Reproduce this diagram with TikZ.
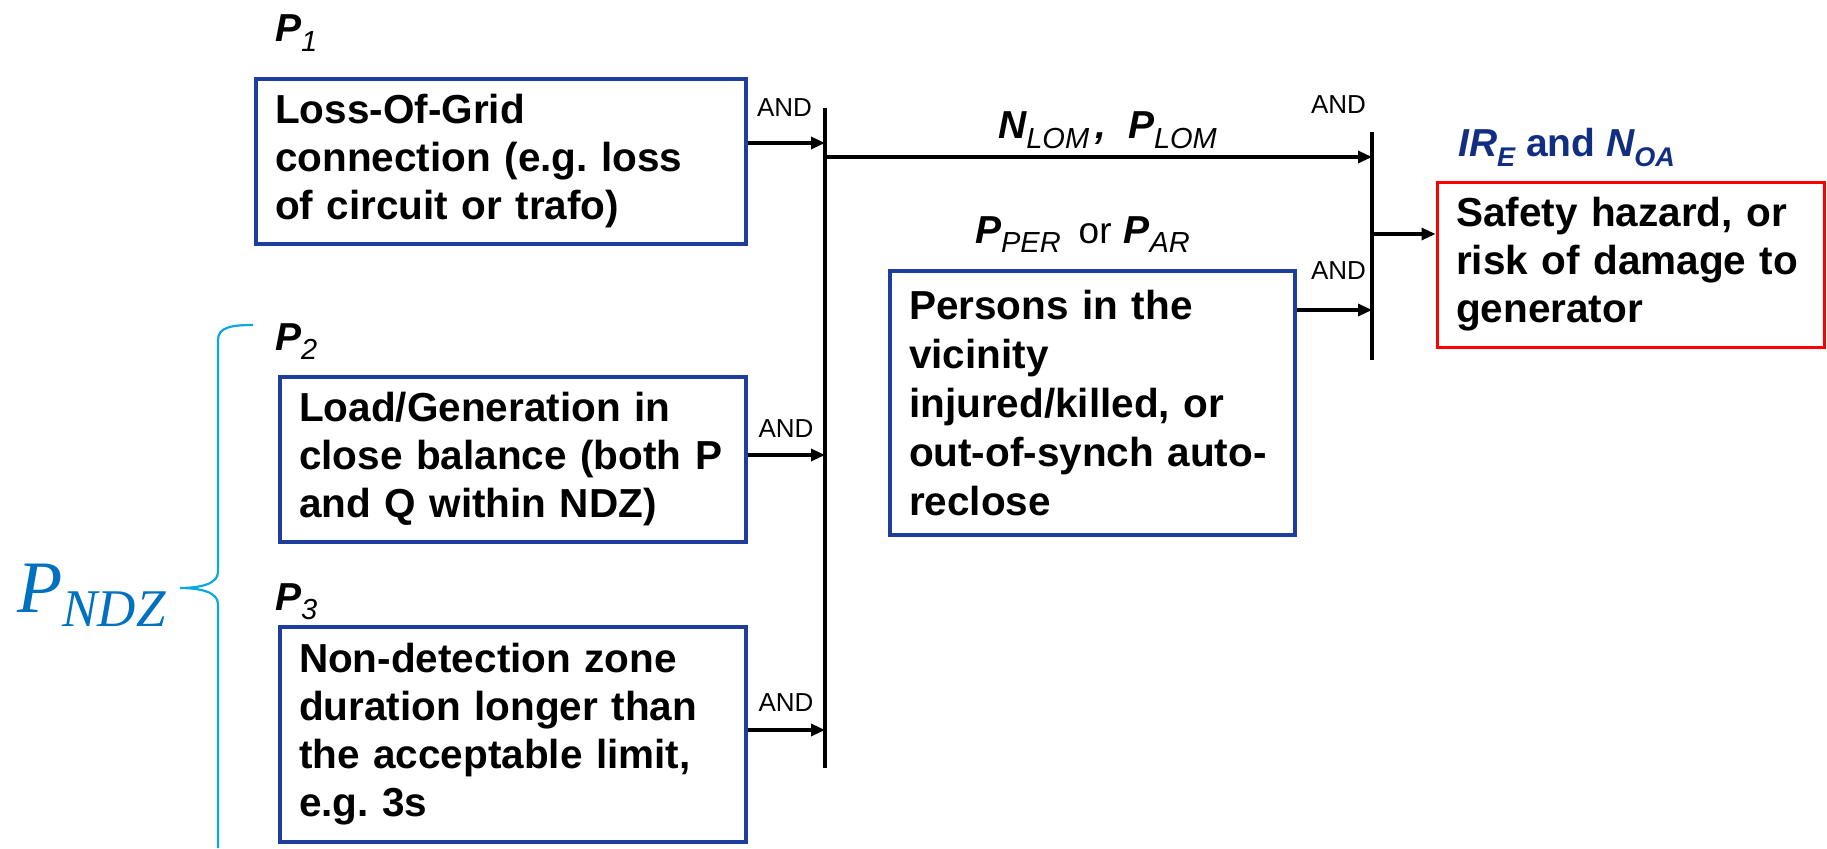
\documentclass[tikz,border=0pt]{standalone}
\usepackage{fontspec}
\setmainfont{Liberation Sans}
\newfontfamily\serifface{Liberation Serif}
\usetikzlibrary{arrows.meta}
\definecolor{boxblue}{RGB}{30,62,158}
\definecolor{bracecyan}{RGB}{10,168,224}
\definecolor{ndzblue}{RGB}{0,112,192}
\definecolor{navy}{RGB}{18,46,130}
\newcommand\subtxt[2]{\raisebox{-0.25em}{\fontsize{#1}{#1}\selectfont #2}}
\frenchspacing
\begin{document}
\begin{tikzpicture}[x=1pt,y=-1pt,
  box/.style={draw=boxblue, line width=3.4pt, inner xsep=19pt, inner ysep=0pt, align=left,
    font=\fontsize{40.5}{48}\selectfont\bfseries},
  conn/.style={line width=3.2pt, -{Triangle[length=14pt,width=12pt]}},
  bus/.style={line width=3.2pt},
  andlbl/.style={font=\fontsize{26}{30}\selectfont, inner sep=0pt},
  plbl/.style={inner sep=0pt, anchor=base west, font=\fontsize{39}{44}\selectfont\bfseries\itshape},
]
\useasboundingbox (0,0) rectangle (1827,848);

% boxes
\node[box, minimum width=490pt, minimum height=165pt, text width=452pt] (b1) at (501,161.5)
  {Loss-Of-Grid\\connection (e.g. loss\\of circuit or trafo)};
\node[box, minimum width=466pt, minimum height=165pt, text width=428pt] (b2) at (513,459.5)
  {Load/Generation in\\close balance (both P\\and Q within NDZ)};
\node[box, minimum width=466pt, minimum height=215pt, text width=428pt] (b3) at (513,734.5)
  {Non-detection zone\\duration longer than\\the acceptable limit,\\e.g. 3s};
\node[box, minimum width=405pt, minimum height=264pt, text width=367pt,
  font=\fontsize{40.5}{49}\selectfont\bfseries] (b4) at (1092.5,403)
  {Persons in the\\vicinity\\injured/killed, or\\out-of-synch auto-\\reclose};
\node[box, draw=red, line width=3pt, minimum width=387pt, minimum height=165pt, text width=349pt] (b5) at (1630.5,264.5)
  {Safety hazard, or\\risk of damage to\\generator};

% buses
\coordinate (L1) at (825,108);
\coordinate (L2) at (825,768);
\coordinate (R1) at (1372,132);
\coordinate (R2) at (1372,360);
\draw[bus] (L1) -- (L2);
\draw[bus] (R1) -- (R2);

% connectors
\draw[conn] ([yshift=18.5pt]b1.east) -- ([yshift=18.5pt]b1.east -| L1);
\draw[conn] ([yshift=4.5pt]b2.east) -- ([yshift=4.5pt]b2.east -| L1);
\draw[conn] ([yshift=4.5pt]b3.east) -- ([yshift=4.5pt]b3.east -| L1);
\draw[conn] ([yshift=93pt]b4.east) -- ([yshift=93pt]b4.east -| R1);
\coordinate (M) at (825,157);
\draw[conn] (M) -- (M -| R1);
\coordinate (O) at (1372,234);
\draw[conn] (O) -- (O -| b5.west);

% AND labels
\node[andlbl] (a1) at (784.5,107.5) {AND};
\node[andlbl] (a2) at (786,428.5) {AND};
\node[andlbl] (a3) at (786,703) {AND};
\node[andlbl] (a4) at (1338.5,105) {AND};
\node[andlbl] (a5) at (1338.5,271) {AND};

% probability labels
\node[plbl] (p1) at (275,42) {P\subtxt{29}{\mdseries 1}};
\node[plbl] (p2) at (275,350) {P\subtxt{29}{\mdseries 2}};
\node[plbl] (p3) at (275,610) {P\subtxt{29}{\mdseries 3}};
\node[plbl, anchor=base] (nlom) at (1107.5,139)
  {N\subtxt{29}{\mdseries LOM}\hspace{6pt},\hspace{22pt}P\subtxt{29}{\mdseries LOM}};
\node[plbl, anchor=base] (pper) at (1082.5,243)
  {P\subtxt{29}{\mdseries PER}\hspace{18pt}{\fontsize{37}{40}\selectfont\mdseries\upshape or}\hspace{12pt}P\subtxt{29}{\mdseries AR}};
\node[plbl, anchor=base, text=navy] (ire) at (1566.5,157)
  {IR\subtxt{27}{E} {\upshape and} N\subtxt{27}{OA}};

% P_NDZ and brace
\node[inner sep=0pt, anchor=base west, text=ndzblue, font=\serifface\itshape\fontsize{74}{80}\selectfont] (pndz) at (17,612)
  {P\raisebox{-14pt}{\fontsize{53}{53}\selectfont NDZ}};
\draw[bracecyan, line width=2.2pt] (253,325) .. controls (232,325) and (218,327) .. (218,340)
  -- (218,572) .. controls (218,584) and (200,588) .. (180,588)
  .. controls (200,588) and (218,592) .. (218,604) -- (218,848);
\end{tikzpicture}
\end{document}
